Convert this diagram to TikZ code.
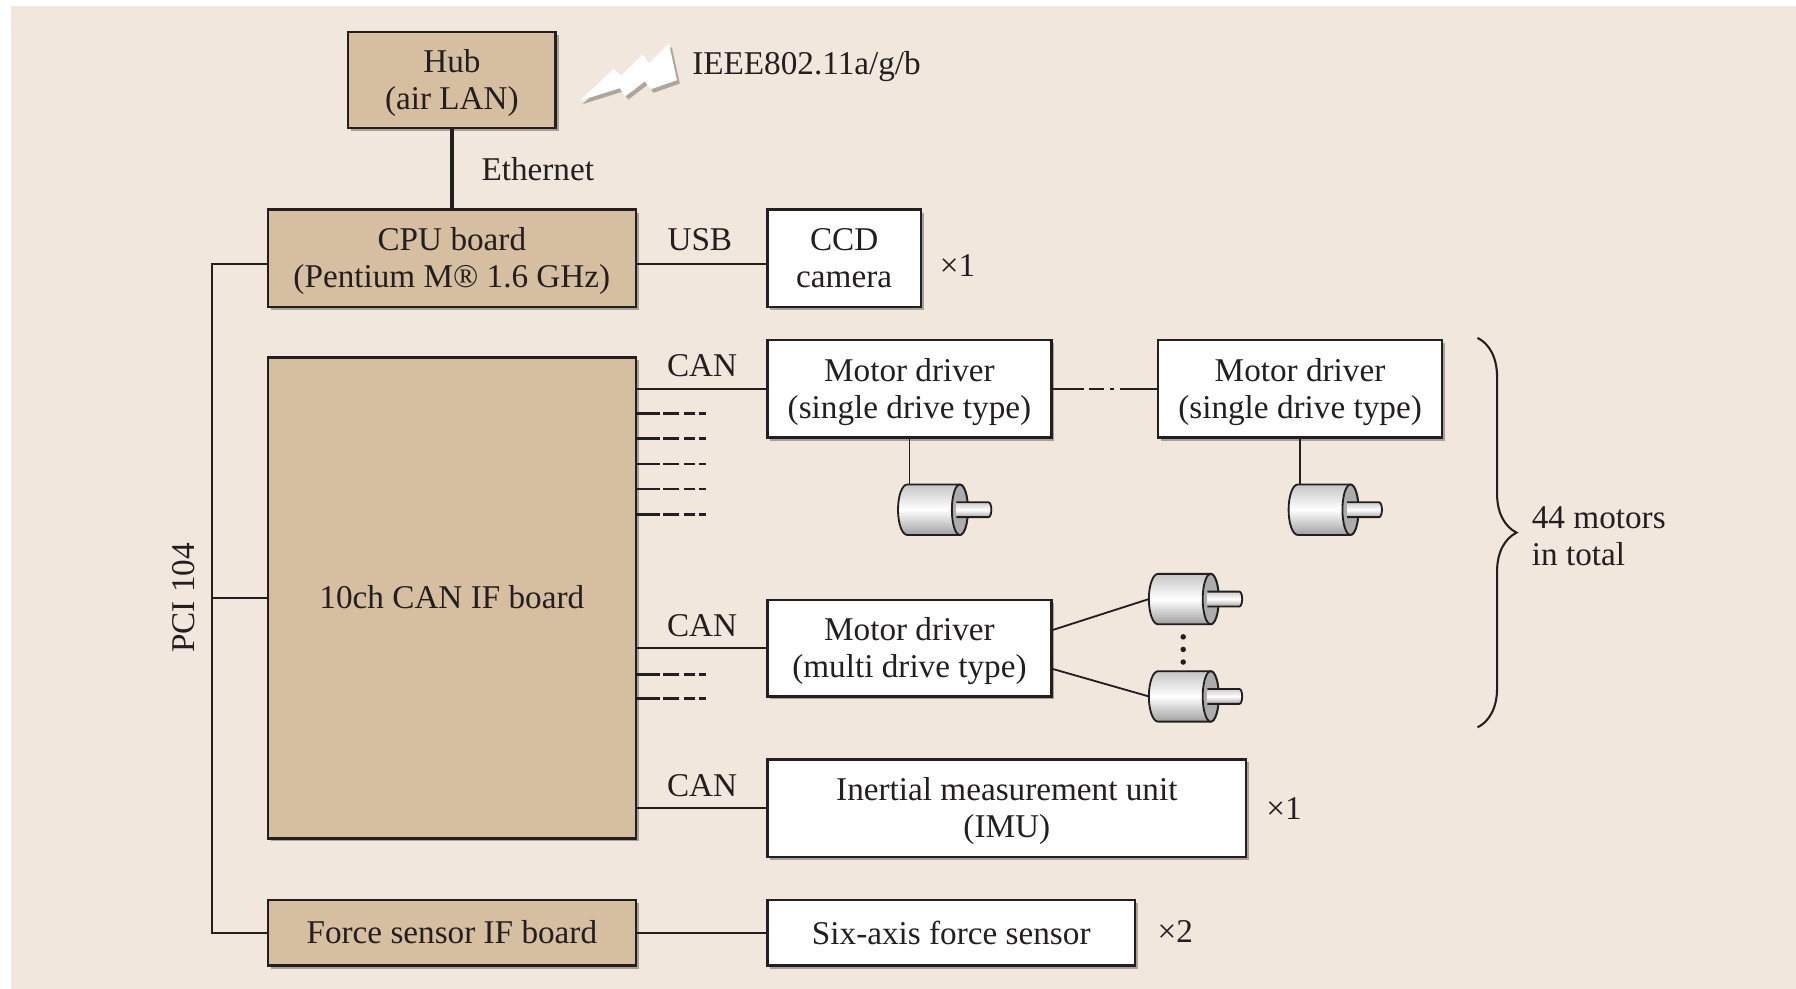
\documentclass[tikz,border=0pt]{standalone}
\usepackage{fontspec}
\setmainfont{Liberation Serif}
\usetikzlibrary{shadows,decorations.pathreplacing,calc}
\definecolor{bg}{RGB}{241,231,221}
\definecolor{tanfill}{RGB}{214,191,160}
\definecolor{ink}{RGB}{35,31,32}
\tikzset{
  motor/.pic={
    \begin{scope}[x=0.5pt,y=0.5pt]
      \shade[top color=gray!45, bottom color=gray!75, middle color=white]
        (8,22) -- (54,22) arc[start angle=90,end angle=-90,x radius=7,y radius=22]
        -- (8,-22) arc[start angle=270,end angle=90,x radius=8,y radius=22] -- cycle;
      \draw[ink, line width=0.8pt]
        (8,22) -- (54,22) arc[start angle=90,end angle=-90,x radius=7,y radius=22]
        -- (8,-22) arc[start angle=270,end angle=90,x radius=8,y radius=22] -- cycle;
      \filldraw[fill=gray!65, draw=ink, line width=0.8pt] (54,0) ellipse[x radius=7, y radius=22];
      \shade[top color=gray!40, bottom color=gray!70, middle color=white]
        (51,6.5) -- (79,6.5) arc[start angle=90,end angle=-90,x radius=2.5,y radius=6.5]
        -- (51,-6.5) -- cycle;
      \draw[ink, line width=0.8pt]
        (51,6.5) -- (79,6.5) arc[start angle=90,end angle=-90,x radius=2.5,y radius=6.5]
        -- (51,-6.5);
      \coordinate (-top) at (11,22);
      \coordinate (-left) at (0,0);
    \end{scope}
  }
}
\begin{document}
\begin{tikzpicture}[x=0.5pt,y=-0.5pt,
  every node/.style={font=\fontsize{14.5}{16}\selectfont, text=ink, inner sep=0pt},
  box/.style={draw=ink, line width=1pt, align=center, text depth=0.5pt,
    drop shadow={shadow xshift=1.3pt,shadow yshift=-1.3pt,opacity=0.3,fill=black}},
  tanbox/.style={box, fill=tanfill},
  whitebox/.style={box, fill=white},
  wire/.style={draw=ink, line width=0.8pt},
  stub/.style={draw=ink, line width=1.1pt, dash pattern=on 10pt off 1.5pt on 7pt off 2pt on 5pt off 1.5pt on 3pt off 20pt},
  dashdot/.style={draw=ink, line width=0.8pt, dash pattern=on 13.5pt off 2.5pt on 6.5pt off 2.5pt on 2pt off 2.5pt on 40pt off 1pt}
]
\useasboundingbox (0,0) rectangle (1568,863.4);
\fill[white] (0,0) rectangle (1568,863.4);
\fill[bg] (10,5) rectangle (1568,863.4);

% boxes
\node[tanbox, minimum width=90.5pt, minimum height=42pt] (hub) at (394.5,70) {Hub\\(air LAN)};
\node[tanbox, minimum width=160.5pt, minimum height=42.5pt] (cpu) at (394.5,225.5) {CPU board\\(Pentium M® 1.6 GHz)};
\node[whitebox, minimum width=67pt, minimum height=42.5pt] (ccd) at (737,225.5) {CCD\\camera};
\node[tanbox, minimum width=160.5pt, minimum height=210pt] (can) at (394.5,522) {10ch CAN IF board};
\node[whitebox, minimum width=124pt, minimum height=42.5pt] (md1) at (794,339.5) {Motor driver\\(single drive type)};
\node[whitebox, minimum width=124pt, minimum height=42.5pt] (md2) at (1135,339.5) {Motor driver\\(single drive type)};
\node[whitebox, minimum width=124pt, minimum height=42pt] (mdm) at (794,566) {Motor driver\\(multi drive type)};
\node[whitebox, minimum width=209pt, minimum height=42.5pt] (imu) at (879,705.5) {Inertial measurement unit\\(IMU)};
\node[tanbox, minimum width=160.5pt, minimum height=28.5pt] (fsb) at (394.5,814.5) {Force sensor IF board};
\node[whitebox, minimum width=160.5pt, minimum height=28.5pt] (six) at (830.5,814.5) {Six-axis force sensor};

% labels
\node[anchor=west] (ieee) at (604,58) {IEEE802.11a/g/b};
\node[anchor=west] (eth) at (420,148) {Ethernet};
\node (usb) at (611,209) {USB};
\node (can1) at (613,319) {CAN};
\node (can2) at (613,546) {CAN};
\node (can3) at (613,686) {CAN};
\node (x1a) at (836,232) {×1};
\node (x1b) at (1121,706) {×1};
\node (x2) at (1026,813) {×2};
\node[rotate=90] (pci) at (160,522) {PCI 104};
\node[anchor=west, align=left] (tot) at (1337,468) {44 motors\\in total};

% wireless icon
\begin{scope}[shift={(2.5,3)}]
\fill[black, opacity=0.28] (506,88) -- (536,60) -- (542,66) -- (561,48) -- (567,55) -- (584,38) -- (591,70) -- (568,78) -- (563,71) -- (546,84) -- (541,77) -- cycle;
\end{scope}
\fill[white] (506,88) -- (536,60) -- (542,66) -- (561,48) -- (567,55) -- (584,38) -- (591,70) -- (568,78) -- (563,71) -- (546,84) -- (541,77) -- cycle;

% connections
\draw[draw=ink, line width=1.6pt] (hub.south) -- (cpu.north);
\draw[wire] ([yshift=-2.5pt]cpu.east) -- ([yshift=-2.5pt]ccd.west);
\draw[wire] ([yshift=-2.5pt]cpu.west) -- ++(-24pt,0) |- (fsb.west);
\draw[wire] (can.west) -- ++(-24pt,0);
\draw[wire] (can.east |- md1.west) -- (md1.west);
\draw[wire] (can.east |- mdm.west) -- (mdm.west);
\draw[wire] (can.east |- imu.west) -- (imu.west);
\draw[wire] (fsb.east) -- (six.west);
\foreach \yy in {361,383,405,427,449,589,610}
  \draw[stub] (can.east |- 0,\yy) -- ++(31pt,0);
\draw[dashdot] (md1.east) -- (md2.west);

% motors
\pic (m1) at (784,445) {motor};
\pic (m2) at (1125,445) {motor};
\pic (m3) at (1003,523) {motor};
\pic (m4) at (1003,608) {motor};
\draw[wire] (md1.south) -- (md1.south |- m1-top);
\draw[wire] (md2.south) -- (md2.south |- m2-top);
\draw[wire] ([yshift=8pt]mdm.east) -- (m3-left);
\draw[wire] ([yshift=-9pt]mdm.east) -- (m4-left);
\foreach \yy in {556,567,578}
  \fill[ink] (1033,\yy) circle (1.2pt);

% brace
\draw[draw=ink, line width=0.9pt, decorate, decoration={brace, amplitude=17pt}] (1290,295) -- (1290,635);
\end{tikzpicture}
\end{document}
